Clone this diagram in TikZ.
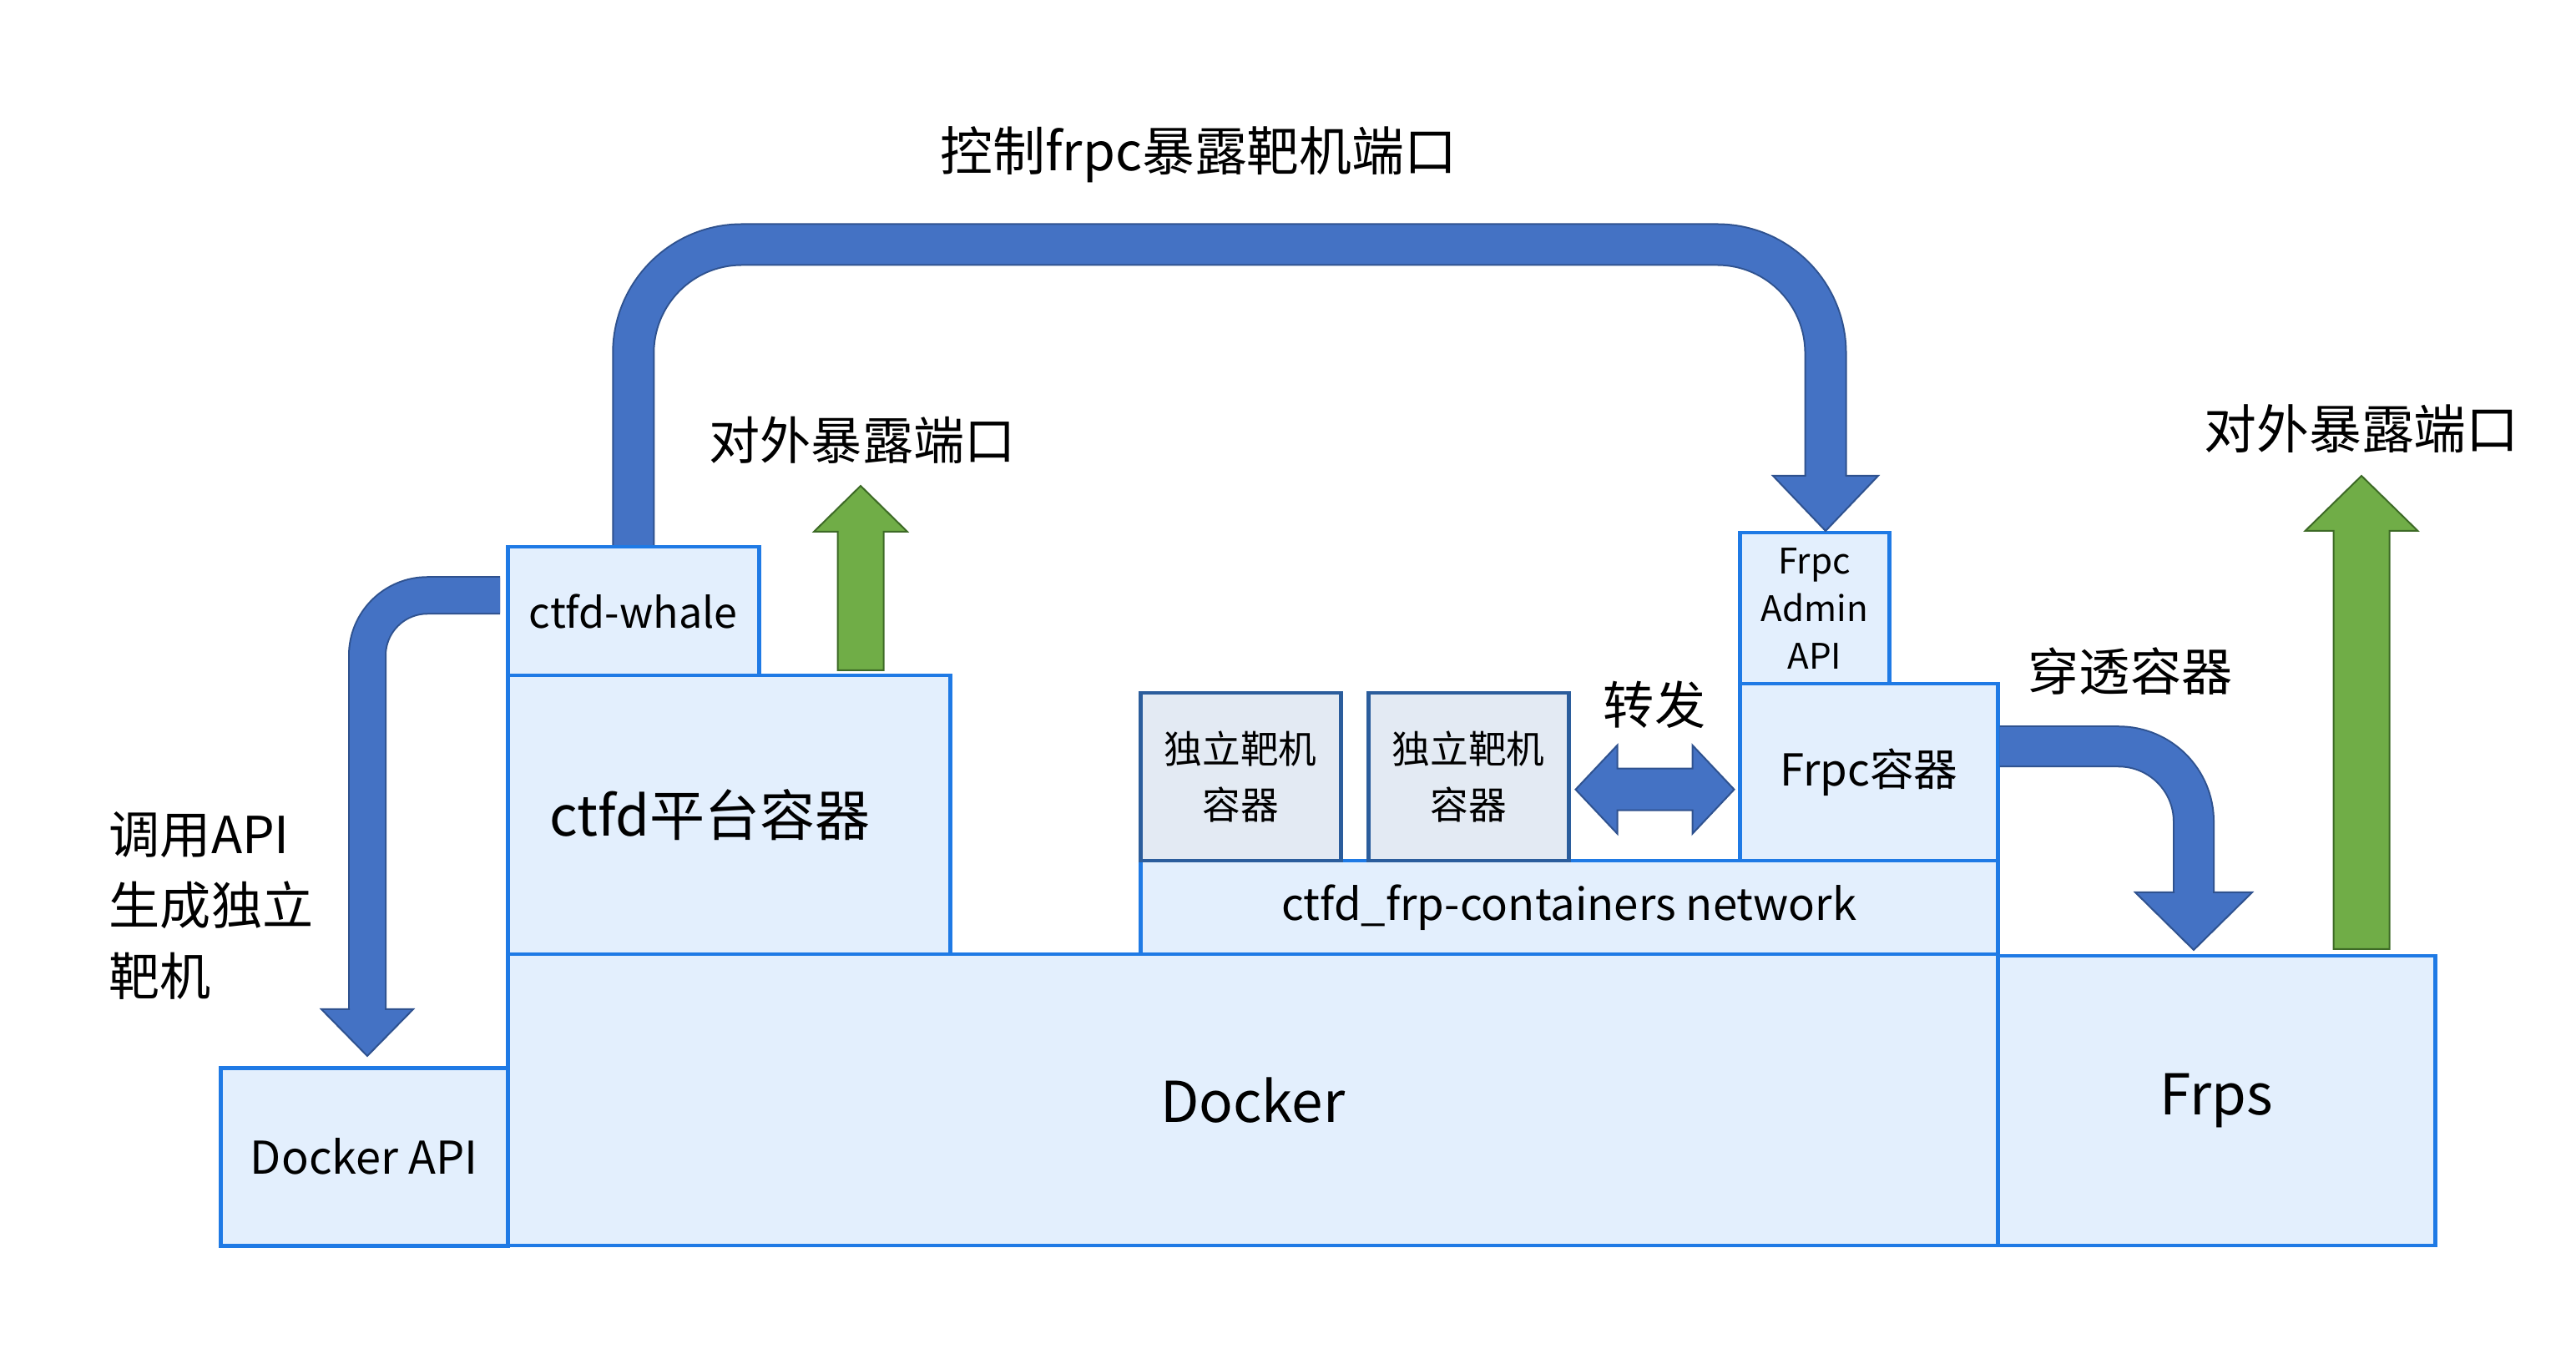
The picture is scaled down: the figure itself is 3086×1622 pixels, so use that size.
\documentclass[tikz,border=0pt]{standalone}
\usepackage{fontspec}
\setmainfont{Noto Sans CJK SC}
\usetikzlibrary{calc}
\definecolor{boxline}{HTML}{1F7AE5}
\definecolor{boxfill}{HTML}{E3EFFD}
\definecolor{vmline}{HTML}{2B5D9C}
\definecolor{vmfill}{HTML}{E3EAF3}
\definecolor{arrowblue}{HTML}{4472C4}
\definecolor{arrowedge}{HTML}{2F528F}
\definecolor{arrowgreen}{HTML}{70AD47}
\definecolor{greenedge}{HTML}{3D6A26}

\begin{document}
\begin{tikzpicture}[x=0.1mm,y=-0.1mm]
	\tikzstyle{every node}+=[inner sep=0pt]
	\tikzstyle{box}=[draw=boxline, fill=boxfill, line width=0.45mm, anchor=north west, align=center]
	\tikzstyle{vmbox}=[box, draw=vmline, fill=vmfill]
	\tikzstyle{lbl}=[font=\fontsize{17.4}{24.2}\selectfont]
	\tikzstyle{blueedge}=[draw=arrowedge]
	\tikzstyle{bluebody}=[draw=arrowblue]
	\tikzstyle{greenarrow}=[fill=arrowgreen, draw=greenedge, line width=0.2mm]
	\useasboundingbox (0,0) rectangle (3086,1622);
	% boxes
	\node[box, minimum width=34.4mm, minimum height=21.3mm, font=\fontsize{15.4}{19}\selectfont] (dockerapi) at (262,1277) {Docker API};
	\node[box, minimum width=178.5mm, minimum height=34.9mm, font=\fontsize{19.2}{23}\selectfont] (docker) at (606,1141) {Docker};
	\node[box, minimum width=52.4mm, minimum height=34.7mm, font=\fontsize{19.2}{23}\selectfont] (frps) at (2391,1143) {Frps};
	\node[box, minimum width=53mm, minimum height=33.4mm, font=\fontsize{18.8}{22}\selectfont] (platform) at (606,807) {ctfd平台容器\hspace{4.5mm}};
	\node[box, minimum width=30.1mm, minimum height=15.4mm, font=\fontsize{14.3}{18}\selectfont] (whale) at (606,653) {ctfd-whale};
	\node[box, minimum width=102.7mm, minimum height=11.2mm, font=\fontsize{15}{18}\selectfont] (network) at (1364,1029) {ctfd\_frp-containers network};
	\node[vmbox, minimum width=24mm, minimum height=20.1mm, font=\fontsize{13}{19}\selectfont] (vm1) at (1364,828) {独立靶机\\容器};
	\node[vmbox, minimum width=24mm, minimum height=20.1mm, font=\fontsize{13}{19}\selectfont] (vm2) at (1637,828) {独立靶机\\容器};
	\node[box, minimum width=30.9mm, minimum height=21.2mm, font=\fontsize{15}{18}\selectfont] (frpc) at (2082,817) {Frpc容器};
	\node[box, minimum width=17.9mm, minimum height=18.1mm, font=\fontsize{12}{16.2}\selectfont] (frpcapi) at (2082,636) {Frpc\\Admin\\API};
	% labels
	\node[lbl, font=\fontsize{17.9}{24}\selectfont] (ctrllbl) at (1436,185) {控制frpc暴露靶机端口};
	\node[lbl] (outleft) at (1033,527) {对外暴露端口};
	\node[lbl, font=\fontsize{17.9}{24}\selectfont] (outright) at (2829,514) {对外暴露端口};
	\node[lbl] (punchlbl) at (2552,804) {穿透容器};
	\node[lbl] (fwdlbl) at (1982,844) {转发};
	\node[lbl, anchor=west, align=left] (apilbl) at (130,1085) {调用API\\生成独立\\靶机};
	% whale -> frpc admin api
	\coordinate (ctrltop) at (1500,293);
	\coordinate (ctrlbase) at (2187,570);
	\draw[blueedge, line width=5.1mm, rounded corners=13mm] (whale.north) |- (ctrltop) -| (ctrlbase);
	\draw[bluebody, line width=4.7mm, rounded corners=13mm] (whale.north) |- (ctrltop) -| (ctrlbase);
	\fill[arrowblue] ($(ctrlbase)+(-63,0)$) -- ($(ctrlbase)+(63,0)$) -- (ctrlbase |- frpcapi.north) -- cycle;
	\draw[blueedge, line width=0.2mm] ($(ctrlbase)+(-23.5,0)$) -- ($(ctrlbase)+(-63,0)$) -- (ctrlbase |- frpcapi.north) -- ($(ctrlbase)+(63,0)$) -- ($(ctrlbase)+(23.5,0)$);
	% whale -> docker api
	\coordinate (apistart) at ($(whale.west)+(-7,-19)$);
	\coordinate (apibase) at (440,1209);
	\draw[blueedge, line width=4.6mm, rounded corners=7.2mm] (apistart) -| (apibase);
	\draw[bluebody, line width=4.2mm, rounded corners=7.2mm] (apistart) -| (apibase);
	\fill[arrowblue] ($(apibase)+(-55,0)$) -- ($(apibase)+(55,0)$) -- ($(apibase |- dockerapi.north)+(0,-12)$) -- cycle;
	\draw[blueedge, line width=0.2mm] ($(apibase)+(-21,0)$) -- ($(apibase)+(-55,0)$) -- ($(apibase |- dockerapi.north)+(0,-12)$) -- ($(apibase)+(55,0)$) -- ($(apibase)+(21,0)$);
	% frpc -> frps
	\coordinate (punchstart) at ($(frpc.east)+(0,-31)$);
	\coordinate (punchbase) at (2628,1069);
	\draw[blueedge, line width=5mm, rounded corners=9mm] (punchstart) -| (punchbase);
	\draw[bluebody, line width=4.6mm, rounded corners=9mm] (punchstart) -| (punchbase);
	\fill[arrowblue] ($(punchbase)+(-70,0)$) -- ($(punchbase)+(70,0)$) -- ($(punchbase |- frps.north)+(0,-5)$) -- cycle;
	\draw[blueedge, line width=0.2mm] ($(punchbase)+(-23,0)$) -- ($(punchbase)+(-70,0)$) -- ($(punchbase |- frps.north)+(0,-5)$) -- ($(punchbase)+(70,0)$) -- ($(punchbase)+(23,0)$);
	% vm <-> frpc
	\coordinate (fwdtip) at ($(vm2.east)+(6,15)$);
	\filldraw[fill=arrowblue, draw=arrowedge, line width=0.2mm] (fwdtip) -- ++(50,-53) -- ++(0,28) -- ++(90,0) -- ++(0,-28) -- ++(50,53) -- ++(-50,53) -- ++(0,-28) -- ++(-90,0) -- ++(0,28) -- cycle;
	% green arrows
	\coordinate (greenleft) at ($(platform.north west)+(425,-4)$);
	\filldraw[greenarrow] (greenleft) ++(-27.5,0) -- ++(0,-166) -- ++(-28.5,0) -- ++(56,-55) -- ++(56,55) -- ++(-28.5,0) -- ++(0,166) -- cycle;
	\coordinate (greenright) at ($(frps.north west)+(438,-6)$);
	\filldraw[greenarrow] (greenright) ++(-33.5,0) -- ++(0,-501) -- ++(-34,0) -- ++(67.5,-66) -- ++(67.5,66) -- ++(-34,0) -- ++(0,501) -- cycle;
\end{tikzpicture}
\end{document}
